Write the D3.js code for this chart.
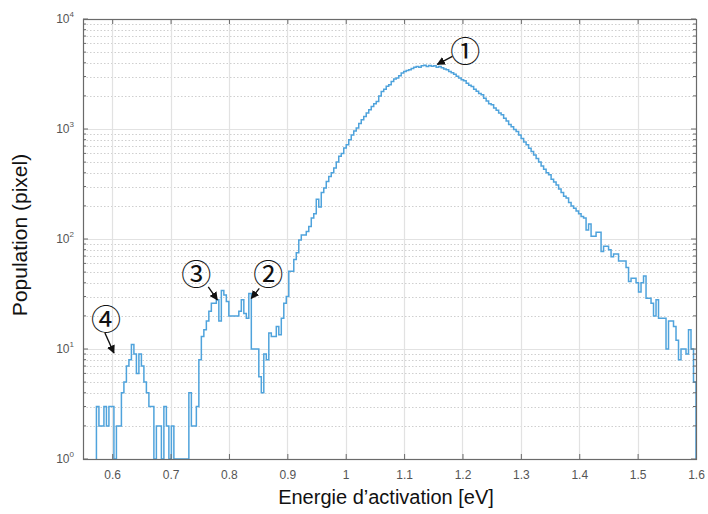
<!DOCTYPE html>
<html>
<head>
<meta charset="utf-8">
<script src="https://cdn.jsdelivr.net/npm/d3@7"></script>
<style>
html,body{margin:0;padding:0;background:#fff;}
svg{display:block;}
</style>
</head>
<body>
<svg id="chart" width="708" height="514"></svg>
<script>
// ---- data ----
const binStart = 0.573;
const binEnd = 1.6;
const counts = [
  3,2,2,3,2,3,3,0,2,2, 4,5,7,8,11,9,6,9,7,5,
  4,3,3,0,2,2,0,3,2,0, 2,0,0,0,0,0,0,4,2,2,
  3,8,13,15,18,22,26,26,28,18, 34,31,27,20,20,20,20,22,28,21,
  19,32,10,10,10,5.6,4,9,8,14, 13,13,16,13.5,19,26,30,51,51,65,
  75,98,109,109,117,130,155,170,230,195, 264,291,334,370,400,442,500,564,600,671,
  720,800,880,960,1021,1120,1216,1300,1400,1500, 1600,1700,1782,2000,2198,2300,2450,2528,2700,2850,
  2909,3050,3230,3340,3400,3460,3550,3650,3700,3650, 3750,3790,3700,3780,3720,3750,3650,3700,3600,3520,
  3460,3340,3250,3150,3020,2909,2800,2750,2600,2500, 2440,2300,2200,2100,2050,1900,1800,1700,1663,1550,
  1480,1400,1350,1250,1180,1100,1050,990,950,880, 820,760,720,670,626,580,540,500,460,430,
  400,384,350,330,310,285,265,245,236,215, 200,190,180,170,160,155,121,137,106,106,
  115,115,77,86,86,80,69,73,73,63, 63,63,55,41,44,44,40,33,40,46,
  29,29,26,20,28,19,19,19,10,18, 18,16,12,8,10,10,9,15,10,5
];
const xTicks = [0.6,0.7,0.8,0.9,1,1.1,1.2,1.3,1.4,1.5,1.6];
const xTickLabels = ["0.6","0.7","0.8","0.9","1","1.1","1.2","1.3","1.4","1.5","1.6"];
const yDecades = [0,1,2,3,4];
const xLabel = "Energie d\u2019activation [eV]";
const yLabel = "Population (pixel)";
const markerLabels = ["\u2460", "\u2461", "\u2462", "\u2463"];
const markerX = [1.157, 0.84, 0.78, 0.603];
const markerY = [3790, 32, 28, 10];

// ---- layout ----
const L = 83, R = 696, T = 19, B = 459;
const svg = d3.select("#chart");
const x = d3.scaleLinear().domain([0.55, 1.6]).range([L, R]);
const y = d3.scaleLog().domain([1, 1e4]).range([B, T]).clamp(true);

// grid
const grid = svg.append("g");
const minorVals = [];
for (let d = 0; d < 4; d++) for (let k = 2; k <= 9; k++) minorVals.push(k * Math.pow(10, d));
grid.selectAll(".ymin").data(minorVals).join("line")
  .attr("x1", L).attr("x2", R)
  .attr("y1", d => Math.round(y(d)) + 0.5).attr("y2", d => Math.round(y(d)) + 0.5)
  .attr("stroke", "#cfcfcf").attr("stroke-width", 1).attr("stroke-dasharray", "1.5,2");
grid.selectAll(".ymaj").data(yDecades.slice(1, 4)).join("line")
  .attr("x1", L).attr("x2", R)
  .attr("y1", d => Math.round(y(Math.pow(10, d))) + 0.5).attr("y2", d => Math.round(y(Math.pow(10, d))) + 0.5)
  .attr("stroke", "#e2e2e2").attr("stroke-width", 1.2);
grid.selectAll(".xmaj").data(xTicks.slice(0, -1)).join("line")
  .attr("y1", T).attr("y2", B)
  .attr("x1", d => Math.round(x(d)) + 0.5).attr("x2", d => Math.round(x(d)) + 0.5)
  .attr("stroke", "#e2e2e2").attr("stroke-width", 1.2);

// histogram stairs
const n = counts.length;
const w = (binEnd - binStart) / n;
const pts = [[x(binStart), y(1)]];
counts.forEach((c, i) => {
  const yy = c > 0 ? y(c) : y(1);
  pts.push([x(binStart + i * w), yy]);
  pts.push([x(binStart + (i + 1) * w), yy]);
});
pts.push([x(binEnd), y(1)]);
svg.append("path")
  .attr("d", d3.line()(pts))
  .attr("fill", "none")
  .attr("stroke", "#4fa3dc")
  .attr("stroke-width", 1.5)
  .attr("stroke-linejoin", "miter");

// axes box
const axisColor = "#6a6a6a";
svg.append("rect").attr("x", L + 0.5).attr("y", T + 0.5).attr("width", R - L).attr("height", B - T)
  .attr("fill", "none").attr("stroke", axisColor).attr("stroke-width", 1.2);

// x axis
const xAxis = d3.axisBottom(x).tickValues(xTicks).tickFormat((d, i) => xTickLabels[i])
  .tickSizeInner(-5).tickSizeOuter(0).tickPadding(11);
const gx = svg.append("g").attr("transform", `translate(0,${B})`).call(xAxis);
gx.select(".domain").remove();
gx.selectAll("line").attr("stroke", axisColor);
gx.selectAll("text").attr("font-family", "Liberation Sans, Arial, sans-serif")
  .attr("font-size", 12).attr("fill", "#555");
svg.append("g").attr("transform", `translate(0,${T})`)
  .call(d3.axisTop(x).tickValues(xTicks).tickSizeInner(-5).tickSizeOuter(0).tickFormat(""))
  .call(g => { g.select(".domain").remove(); g.selectAll("line").attr("stroke", axisColor); });

// y axis ticks (left and right)
const yMajor = yDecades.map(d => Math.pow(10, d));
[[L, 1], [R, -1]].forEach(([px, dir]) => {
  const g = svg.append("g");
  g.selectAll(".maj").data(yMajor).join("line")
    .attr("x1", px).attr("x2", px + dir * 5)
    .attr("y1", d => y(d)).attr("y2", d => y(d)).attr("stroke", axisColor);
  g.selectAll(".min").data(minorVals).join("line")
    .attr("x1", px).attr("x2", px + dir * 3)
    .attr("y1", d => y(d)).attr("y2", d => y(d)).attr("stroke", axisColor);
});
const yl = svg.append("g");
yDecades.forEach(d => {
  const t = yl.append("text").attr("x", 74).attr("y", y(Math.pow(10, d)) + 4)
    .attr("text-anchor", "end").attr("font-family", "Liberation Sans, Arial, sans-serif")
    .attr("font-size", 12).attr("fill", "#555");
  t.append("tspan").text("10");
  t.append("tspan").attr("dy", -6).attr("font-size", 8).text(String(d));
});

// axis titles
svg.append("text").attr("x", 386).attr("y", 504).attr("text-anchor", "middle")
  .attr("font-family", "Liberation Sans, Arial, sans-serif").attr("font-size", 20).attr("fill", "#111")
  .text(xLabel);
svg.append("text").attr("transform", `translate(27,${235}) rotate(-90)`)
  .attr("text-anchor", "middle").attr("font-family", "Liberation Sans, Arial, sans-serif")
  .attr("font-size", 21).attr("fill", "#111").text(yLabel);

// annotations
const defs = svg.append("defs");
defs.append("marker").attr("id", "ah").attr("viewBox", "0 0 10 10").attr("refX", 9).attr("refY", 5)
  .attr("markerWidth", 6).attr("markerHeight", 6).attr("orient", "auto")
  .append("path").attr("d", "M0,0 L10,5 L0,10 z").attr("fill", "#111");
// offsets: head (hx,hy), circle centre (cx,cy), tail (tx,ty) relative to the data anchor
const annOffsets = [
  {hx: 0, hy: -1, cx: 28, cy: -15, tx: 15, ty: -9},
  {hx: -1, hy: 5, cx: 16, cy: -20, tx: 7, ty: -5},
  {hx: 0, hy: 0, cx: -21, cy: -27, tx: -9, ty: -13},
  {hx: 0, hy: 4, cx: -8, cy: -31, tx: -9, ty: -16}
];
const fs = 30;
markerLabels.forEach((lab, i) => {
  const ax = x(markerX[i]), ay = y(markerY[i]);
  const o = annOffsets[i];
  svg.append("line").attr("x1", ax + o.tx).attr("y1", ay + o.ty).attr("x2", ax + o.hx).attr("y2", ay + o.hy)
    .attr("stroke", "#111").attr("stroke-width", 1.4).attr("marker-end", "url(#ah)");
  svg.append("text").attr("x", ax + o.cx).attr("y", ay + o.cy + fs * 0.39).attr("text-anchor", "middle")
    .attr("font-family", "Noto Sans CJK JP, sans-serif").attr("font-size", fs).attr("fill", "#111")
    .text(lab);
});
</script>
</body>
</html>
